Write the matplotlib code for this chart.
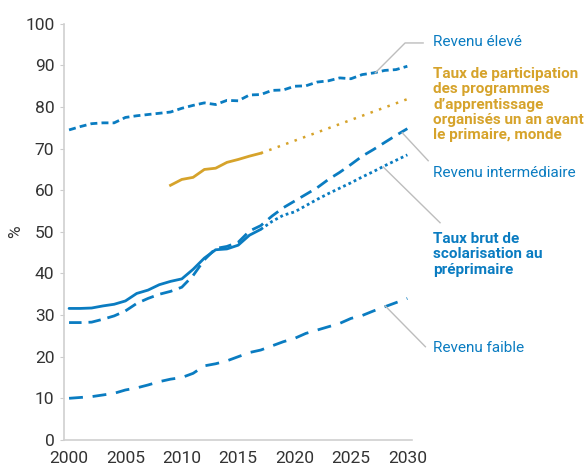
import numpy as np
import matplotlib.pyplot as plt

plt.rcParams['font.family'] = ['Roboto', 'DejaVu Sans']

BLUE = '#0a7cc1'
GOLD = '#d6a32b'
GREY = '#bdbdbd'

years = np.arange(2000, 2031)

revenu_eleve = [74.5, 75.3, 76.0, 76.2, 76.2, 77.5, 77.9, 78.2, 78.5, 78.8,
                79.7, 80.4, 81.0, 80.6, 81.6, 81.5, 82.9, 83.0, 84.0, 84.1,
                85.0, 85.1, 86.0, 86.3, 87.0, 86.8, 87.8, 88.2, 88.8, 89.0, 89.8]
revenu_inter = [28.2, 28.2, 28.3, 29.0, 29.8, 31.0, 32.8, 34.0, 35.0, 35.7,
                36.7, 39.5, 43.3, 46.0, 46.5, 47.5, 50.2, 51.5, 53.8, 55.8,
                57.4, 59.0, 60.6, 62.6, 64.3, 66.2, 68.2, 69.8, 71.5, 73.2, 74.8]
revenu_faible = [10.0, 10.2, 10.4, 10.8, 11.2, 12.0, 12.5, 13.2, 14.0, 14.6,
                 15.0, 16.0, 17.8, 18.3, 19.0, 20.0, 21.0, 21.6, 22.6, 23.6,
                 24.4, 25.6, 26.4, 27.2, 28.0, 29.2, 29.9, 31.0, 32.0, 33.0, 34.0]

# gross enrolment ratio, observed then projected
ter_years = np.arange(2000, 2018)
ter_obs = [31.6, 31.6, 31.7, 32.2, 32.6, 33.4, 35.2, 36.0, 37.3, 38.1,
           38.7, 41.0, 43.7, 45.7, 45.9, 46.8, 49.2, 50.6]
ter_proj_years = np.arange(2017, 2031)
ter_proj = [50.6, 52.5, 54.0, 54.8, 56.3, 57.8, 59.2, 60.5, 61.8, 63.2,
            64.5, 65.9, 67.2, 68.5]

# participation rate one year before primary, world
part_years = np.arange(2009, 2018)
part_obs = [61.2, 62.6, 63.1, 65.0, 65.3, 66.7, 67.4, 68.2, 68.9]
part_proj_years = np.arange(2017, 2031)
part_proj = [68.9, 69.9, 70.9, 71.9, 72.9, 73.9, 74.9, 75.9, 76.9, 77.9,
             78.9, 79.9, 80.9, 81.9]

fig = plt.figure(figsize=(5.88, 4.67), dpi=100)
ax = fig.add_axes([0.109, 0.058, 0.592, 0.891])

ax.plot(years, revenu_eleve, color=BLUE, lw=2, linestyle=(0, (2.5, 1.5)))
ax.plot(years, revenu_inter, color=BLUE, lw=2, linestyle=(0, (4.5, 2.5)))
ax.plot(years, revenu_faible, color=BLUE, lw=2, linestyle=(0, (5, 3.5)))
ax.plot(ter_years, ter_obs, color=BLUE, lw=2, solid_capstyle='round')
ax.plot(ter_proj_years, ter_proj, color=BLUE, lw=2, linestyle=(0, (1, 1.1)))
ax.plot(part_years, part_obs, color=GOLD, lw=2)
ax.plot(part_proj_years, part_proj, color=GOLD, lw=1.8, linestyle=(0, (1, 2.6)))

ax.set_xlim(1999.56, 2030.43)
ax.set_ylim(0, 100)
ax.set_xticks(range(2000, 2031, 5))
ax.set_yticks(range(0, 101, 10))
ax.tick_params(axis='x', length=0, labelsize=12.5, colors='#333333', pad=8)
ax.tick_params(axis='y', length=3, color='#cccccc', labelsize=12.5,
               labelcolor='#333333', pad=4)
for s in ['top', 'right']:
    ax.spines[s].set_visible(False)
for s in ['left', 'bottom']:
    ax.spines[s].set_color('#d0d0d0')
    ax.spines[s].set_linewidth(1.2)
ax.set_ylabel('%', fontsize=12.5, color='#333333')
ax.yaxis.set_label_coords(-0.118, 0.5)

# leader lines
leaders = [
    ([2027.15, 2029.8, 2031.4], [88.2, 95.4, 95.4]),
    ([2029.55, 2031.85], [73.8, 67.1]),
    ([2027.86, 2032.9], [65.6, 52.2]),
    ([2028.04, 2031.6], [32.2, 22.4]),
]
for lx, ly in leaders:
    ax.plot(lx, ly, color=GREY, lw=1, clip_on=False)

tx = 2032.3
ax.text(tx, 95.7, 'Revenu élevé', color=BLUE, fontsize=11, va='center')
ax.text(tx, 89.6, 'Taux de participation\ndes programmes\nd\u2019apprentissage\norganisés un an avant\nle primaire, monde',
        color=GOLD, fontsize=11, fontweight='bold', va='top', linespacing=1.12)
ax.text(tx, 64.2, 'Revenu intermédiaire', color=BLUE, fontsize=11, va='center')
ax.text(tx, 50.0, 'Taux brut de\nscolarisation au\npréprimaire', color=BLUE,
        fontsize=11, fontweight='bold', va='top', linespacing=1.12)
ax.text(tx, 22.1, 'Revenu faible', color=BLUE, fontsize=11, va='center')

fig.savefig('out.png', dpi=100)
